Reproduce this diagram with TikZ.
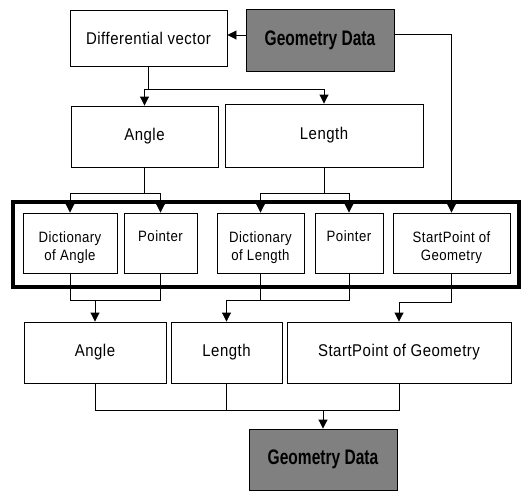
\documentclass[tikz,border=0pt]{standalone}
\usepackage{fontspec}
\setmainfont{Liberation Sans}[FakeStretch=0.88, LetterSpace=3]
\newfontfamily\gdfont{Liberation Sans}[FakeStretch=0.74]
\usetikzlibrary{arrows.meta}
\begin{document}
\begin{tikzpicture}[x=1pt,y=-1pt,
  box/.style={draw, line width=0.9pt, inner sep=0pt, align=center, fill=white,
    font=\fontsize{17}{20}\selectfont},
  small/.style={draw, line width=0.9pt, inner sep=0pt, fill=white},
  stext/.style={inner sep=0pt, align=center, font=\fontsize{15}{18}\selectfont},
  gbox/.style={draw, line width=0.9pt, inner sep=0pt, align=center, fill=black!50,
    font=\fontsize{21}{24}\gdfont\bfseries},
  frame/.style={draw, line width=3.5pt, inner sep=0pt},
  ln/.style={line width=0.9pt},
  arr/.style={line width=0.9pt, -{Triangle[length=9pt,width=9pt]}}]
\useasboundingbox (0,0) rectangle (522,491);
% top
\node[box, minimum width=157pt, minimum height=56pt] (dv) at (148.5,38) {Differential vector};
\node[gbox, minimum width=148pt, minimum height=62pt] (gd1) at (320,40) {Geometry Data};
\node[box, minimum width=147pt, minimum height=61pt] (a1) at (144.5,136.5) {Angle};
\node[box, minimum width=198pt, minimum height=63pt] (l1) at (324,135.5) {Length};
% middle frame
\node[frame, minimum width=506pt, minimum height=85pt] (fr) at (266,244.5) {};
\node[small, minimum width=94pt, minimum height=60pt] (da) at (70,243) {};
\node[small, minimum width=73pt, minimum height=60pt] (p1) at (160.5,243) {};
\node[small, minimum width=87pt, minimum height=60pt] (dl) at (260.5,243) {};
\node[small, minimum width=68pt, minimum height=60pt] (p2) at (349,243) {};
\node[small, minimum width=117pt, minimum height=60pt] (sp) at (451.5,243) {};
\node[stext] (dat) at ([yshift=-5pt]da.center) {Dictionary\\of Angle};
\node[stext] (p1t) at ([yshift=-5pt]p1.center) {Pointer\\\strut};
\node[stext] (dlt) at ([yshift=-5pt]dl.center) {Dictionary\\of Length};
\node[stext] (p2t) at ([yshift=-5pt]p2.center) {Pointer\\\strut};
\node[stext] (spt) at ([yshift=-5pt]sp.center) {StartPoint of\\Geometry};
% bottom
\node[box, minimum width=142pt, minimum height=61pt] (a2) at (95,352.5) {Angle};
\node[box, minimum width=111pt, minimum height=61pt] (l2) at (226.5,352.5) {Length};
\node[box, minimum width=224pt, minimum height=61pt] (sp2) at (399,352.5) {StartPoint of Geometry};
\node[gbox, minimum width=148pt, minimum height=61pt] (gd2) at (323,459.5) {Geometry Data};
% connectors top
\draw[arr] ([yshift=5pt]gd1.west) -- ([yshift=5pt]gd1.west -| dv.east);
\draw[arr] ([yshift=6pt]gd1.east) -| (sp.north);
\coordinate (j1) at (dv.south |- 0,89);
\draw[ln] (dv.south) -- (j1);
\draw[arr] (j1) -| (a1.north);
\draw[arr] (j1) -| (l1.north);
\coordinate (j2) at (a1.south |- 0,193);
\draw[ln] (a1.south) -- (j2);
\draw[arr] (j2) -| (da.north);
\draw[arr] (j2) -| (p1.north);
\coordinate (j3) at (l1.south |- 0,193);
\draw[ln] (l1.south) -- (j3);
\draw[arr] (j3) -| (dl.north);
\draw[arr] (j3) -| (p2.north);
% connectors middle to bottom
\draw[ln] (da.south) |- (p1.south |- 0,300) -- (p1.south);
\draw[arr] (a2.north |- 0,300) -- (a2.north);
\draw[ln] (dl.south) |- (p2.south |- 0,300) -- (p2.south);
\draw[arr] (dl.south |- 0,300) -| (l2.north);
\draw[arr] (sp.south) -- (sp.south |- 0,302) -| (sp2.north);
% bottom connectors
\draw[ln] (a2.south) |- (sp2.south |- 0,410) -- (sp2.south);
\draw[ln] (l2.south) -- (l2.south |- 0,410);
\draw[arr] (gd2.north |- 0,410) -- (gd2.north);
\end{tikzpicture}
\end{document}
